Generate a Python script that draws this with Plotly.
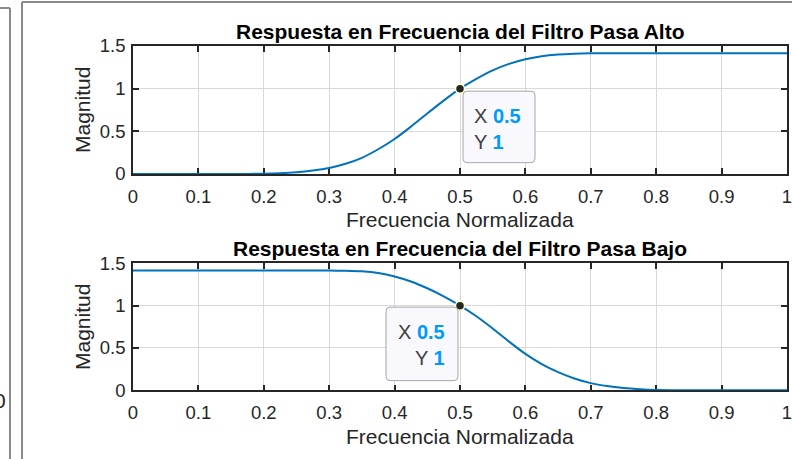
import plotly.graph_objects as go

# Magnitude response samples (normalized frequency vs. magnitude)
freq_hp = [0.0, 0.1, 0.15, 0.2, 0.225, 0.25, 0.275, 0.3, 0.325, 0.35, 0.375, 0.4,
           0.425, 0.45, 0.475, 0.5, 0.525, 0.55, 0.575, 0.6, 0.625, 0.65, 0.675,
           0.7, 0.75, 0.8, 0.9, 1.0]
mag_hp = [0.0, 0.0, 0.0, 0.003, 0.009, 0.02, 0.04, 0.07, 0.12, 0.19, 0.29, 0.41,
          0.555, 0.71, 0.86, 1.0, 1.115, 1.215, 1.29, 1.345, 1.38, 1.40, 1.41,
          1.414, 1.414, 1.414, 1.414, 1.414]

freq_lp = [0.0, 0.1, 0.2, 0.3, 0.325, 0.35, 0.375, 0.4, 0.425, 0.45, 0.475, 0.5,
           0.525, 0.55, 0.575, 0.6, 0.625, 0.65, 0.675, 0.7, 0.725, 0.75, 0.775,
           0.8, 0.85, 0.9, 1.0]
mag_lp = [1.414, 1.414, 1.414, 1.414, 1.412, 1.405, 1.385, 1.345, 1.285, 1.205, 1.11,
          1.0, 0.875, 0.73, 0.575, 0.43, 0.31, 0.215, 0.14, 0.085, 0.05, 0.027,
          0.013, 0.005, 0.0, 0.0, 0.0]

tip_x = [0.5]
tip_y = [1.0]

x_ticks = [0, 0.1, 0.2, 0.3, 0.4, 0.5, 0.6, 0.7, 0.8, 0.9, 1]
x_ticktext = ["0", "0.1", "0.2", "0.3", "0.4", "0.5", "0.6", "0.7", "0.8", "0.9", "1"]
y_ticks = [0, 0.5, 1, 1.5]
y_ticktext = ["0", "0.5", "1", "1.5"]

titles = ["Respuesta en Frecuencia del Filtro Pasa Alto",
          "Respuesta en Frecuencia del Filtro Pasa Bajo"]
xlabel = "Frecuencia Normalizada"
ylabel = "Magnitud"

W, H = 792, 459
FONT = "Liberation Sans, Arial, Helvetica, sans-serif"
INK = "#262626"
BLUE = "#0072BD"
TIP_BLUE = "#0099FF"


def px(v):
    return v / W


def py(v):
    return 1 - v / H


fig = go.Figure()

fig.add_trace(go.Scatter(x=freq_hp, y=mag_hp, mode="lines",
                         line=dict(color=BLUE, width=2, shape="spline", smoothing=0.6),
                         xaxis="x", yaxis="y", hoverinfo="skip"))
fig.add_trace(go.Scatter(x=freq_lp, y=mag_lp, mode="lines",
                         line=dict(color=BLUE, width=2, shape="spline", smoothing=0.6),
                         xaxis="x2", yaxis="y2", hoverinfo="skip"))

axis_common = dict(
    range=[0, 1], tickvals=x_ticks, ticktext=x_ticktext,
    showline=True, linecolor=INK, linewidth=1.6, mirror="ticks",
    ticks="inside", ticklen=6, tickwidth=1.6, tickcolor=INK,
    showgrid=True, gridcolor="#D9D9D9", gridwidth=1.3, zeroline=False,
    tickfont=dict(family=FONT, size=18.5, color=INK), ticklabelstandoff=5,
    ticklabeloverflow="allow", automargin=False,
    layer="below traces", fixedrange=True,
)
yaxis_common = dict(
    range=[0, 1.5], tickvals=y_ticks, ticktext=y_ticktext,
    showline=True, linecolor=INK, linewidth=1.6, mirror="ticks",
    ticks="inside", ticklen=6, tickwidth=1.6, tickcolor=INK,
    showgrid=True, gridcolor="#D9D9D9", gridwidth=1.3, zeroline=False,
    tickfont=dict(family=FONT, size=18.5, color=INK), ticklabelstandoff=2,
    ticklabeloverflow="allow", automargin=False,
    layer="below traces", fixedrange=True,
)

x_dom = [px(133), px(787)]
top_dom = [py(174), py(46)]
bot_dom = [py(390.3), py(263.3)]

fig.update_layout(
    width=W, height=H,
    margin=dict(l=0, r=0, t=0, b=0, autoexpand=False),
    paper_bgcolor="white", plot_bgcolor="white",
    showlegend=False,
    xaxis=dict(domain=x_dom, anchor="y", **axis_common),
    yaxis=dict(domain=top_dom, anchor="x", **yaxis_common),
    xaxis2=dict(domain=x_dom, anchor="y2", **axis_common),
    yaxis2=dict(domain=bot_dom, anchor="x2", **yaxis_common),
)

annotations = []
# Titles and axis labels
for title, ty, xly, yly in ((titles[0], 31, 219, 110), (titles[1], 248, 436, 327)):
    annotations.append(dict(text="<b>%s</b>" % title, x=px(460), y=py(ty),
                            xref="paper", yref="paper", showarrow=False,
                            xanchor="center", yanchor="middle",
                            font=dict(family=FONT, size=21, color="#000000")))
    annotations.append(dict(text=xlabel, x=px(460), y=py(xly),
                            xref="paper", yref="paper", showarrow=False,
                            xanchor="center", yanchor="middle",
                            font=dict(family=FONT, size=21, color=INK)))
    annotations.append(dict(text=ylabel, x=px(82), y=py(yly), textangle=-90,
                            xref="paper", yref="paper", showarrow=False,
                            xanchor="center", yanchor="middle",
                            font=dict(family=FONT, size=21, color=INK)))

# Data tip labels
tip_font = dict(family=FONT, size=20, color="#404040")
val = '<span style="color:%s"><b>%s</b></span>'
annotations += [
    dict(text="X " + val % (TIP_BLUE, "0.5"), x=tip_x[0], y=tip_y[0], xref="x", yref="y",
         showarrow=False, xanchor="left", yanchor="middle", xshift=12, yshift=-27,
         font=tip_font),
    dict(text="Y " + val % (TIP_BLUE, "1"), x=tip_x[0], y=tip_y[0], xref="x", yref="y",
         showarrow=False, xanchor="left", yanchor="middle", xshift=12, yshift=-53,
         font=tip_font),
    dict(text="X " + val % (TIP_BLUE, "0.5"), x=tip_x[0], y=tip_y[0], xref="x2", yref="y2",
         showarrow=False, xanchor="right", yanchor="middle", xshift=-13, yshift=-26,
         font=tip_font),
    dict(text="Y " + val % (TIP_BLUE, "1"), x=tip_x[0], y=tip_y[0], xref="x2", yref="y2",
         showarrow=False, xanchor="right", yanchor="middle", xshift=-13, yshift=-52,
         font=tip_font),
]
# Tick label of the neighbouring panel, cut by the window edge
annotations.append(dict(text="0", x=px(8), y=py(400), xref="paper", yref="paper",
                        showarrow=False, xanchor="right", yanchor="middle",
                        font=dict(family=FONT, size=21, color=INK)))
fig.update_layout(annotations=annotations)


def rounded_box(x0, x1, y0, y1, r=4):
    return ("M %g,%g L %g,%g Q %g,%g %g,%g L %g,%g Q %g,%g %g,%g "
            "L %g,%g Q %g,%g %g,%g L %g,%g Q %g,%g %g,%g Z") % (
        x0 + r, y1, x1 - r, y1, x1, y1, x1, y1 - r,
        x1, y0 + r, x1, y0, x1 - r, y0,
        x0 + r, y0, x0, y0, x0, y0 + r,
        x0, y1 - r, x0, y1, x0 + r, y1)


shapes = [
    # data tip boxes, pixel offsets from the tip point
    dict(type="path", xref="x", yref="y", xsizemode="pixel", ysizemode="pixel",
         xanchor=tip_x[0], yanchor=tip_y[0], path=rounded_box(3, 75, -74, -2.5),
         fillcolor="#F9F9FD", line=dict(color="#A6A6A6", width=1), layer="above"),
    dict(type="path", xref="x2", yref="y2", xsizemode="pixel", ysizemode="pixel",
         xanchor=tip_x[0], yanchor=tip_y[0], path=rounded_box(-74, -2, -75, -1.5),
         fillcolor="#F9F9FD", line=dict(color="#A6A6A6", width=1), layer="above"),
    # panel borders
    dict(type="line", xref="paper", yref="paper", x0=px(10), x1=px(10), y0=py(8), y1=0,
         line=dict(color="#8A8A8A", width=2)),
    dict(type="line", xref="paper", yref="paper", x0=0, x1=px(10), y0=py(8), y1=py(8),
         line=dict(color="#8A8A8A", width=2)),
    dict(type="line", xref="paper", yref="paper", x0=px(22), x1=px(22), y0=py(2), y1=0,
         line=dict(color="#8A8A8A", width=2)),
    dict(type="line", xref="paper", yref="paper", x0=px(22), x1=1, y0=py(2), y1=py(2),
         line=dict(color="#8A8A8A", width=2)),
]
fig.update_layout(shapes=shapes)

# Data tip markers drawn last so they sit above the boxes
for xa, ya in (("x", "y"), ("x2", "y2")):
    fig.add_trace(go.Scatter(x=tip_x, y=tip_y, mode="markers", cliponaxis=False,
                             marker=dict(color=INK, size=9,
                                         line=dict(color="#FFFFD2", width=1.5)),
                             xaxis=xa, yaxis=ya, hoverinfo="skip"))

fig.write_html("out.html",
               post_script="document.body.style.margin='0';"
                           "document.body.style.overflow='hidden';")
